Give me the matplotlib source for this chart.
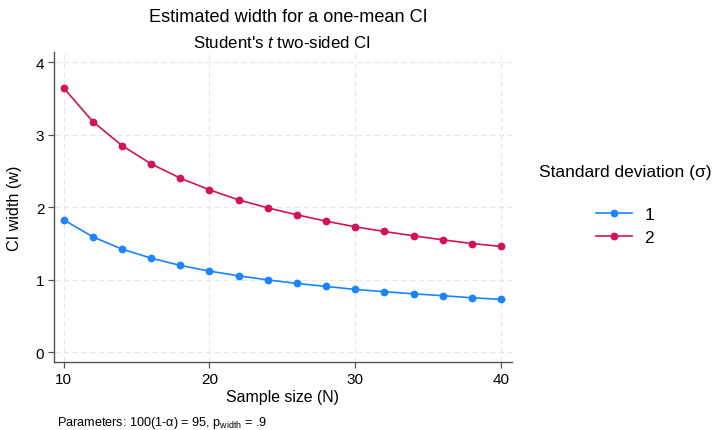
import matplotlib
matplotlib.use("Agg")
import matplotlib.pyplot as plt

plt.rcParams["font.family"] = ["Liberation Sans", "DejaVu Sans"]
plt.rcParams["mathtext.fontset"] = "custom"
plt.rcParams["mathtext.rm"] = "Liberation Sans"
plt.rcParams["mathtext.it"] = "Liberation Sans:italic"

# Sample sizes and estimated CI widths for each standard deviation
sample_size = [10, 12, 14, 16, 18, 20, 22, 24, 26, 28, 30, 32, 34, 36, 38, 40]
width_sd1 = [1.825, 1.590, 1.420, 1.296, 1.195, 1.117, 1.052, 0.995,
             0.947, 0.905, 0.864, 0.832, 0.804, 0.777, 0.749, 0.726]
width_sd2 = [3.645, 3.181, 2.850, 2.597, 2.400, 2.239, 2.100, 1.990,
             1.894, 1.806, 1.728, 1.664, 1.604, 1.549, 1.498, 1.457]
sd_labels = ["1", "2"]
x_ticks = [10, 20, 30, 40]
y_ticks = [0, 1, 2, 3, 4]

colors = ["#1a85ff", "#d41159"]

W, H = 714, 431
fig = plt.figure(figsize=(W / 100, H / 100), dpi=100)
ax = fig.add_axes([54 / W, 1 - 363 / H, (512 - 54) / W, (363 - 53) / H])

handles = []
for ys, c, lab in zip([width_sd1, width_sd2], colors, sd_labels):
    h, = ax.plot(sample_size, ys, color=c, lw=1.2, marker="o", ms=4.6,
                 mec=c, mfc=c, label=lab, zorder=3)
    handles.append(h)

ax.set_xlim(9.335, 40.75)
ax.set_ylim(-0.138, 4.142)
ax.set_xticks(x_ticks)
ax.set_yticks(y_ticks)
ax.grid(True, color="#e6e6e6", ls=(0, (5, 3)), lw=0.8, zorder=0)
for s in ["top", "right"]:
    ax.spines[s].set_visible(False)
for s in ["left", "bottom"]:
    ax.spines[s].set_color("#555555")
    ax.spines[s].set_linewidth(1.0)
ax.tick_params(axis="both", colors="#555555", labelcolor="black",
               labelsize=11, length=4, width=0.9, pad=3)

ax.set_xlabel("Sample size (N)", fontsize=11.4, va="center")
ax.xaxis.set_label_coords(0.5, (363 - 398) / 310)
ax.set_ylabel("CI width (w)", fontsize=11.6, va="center")
ax.yaxis.set_label_coords((15 - 54) / 458, 0.5)

fig.text(288 / W, 1 - 17 / H, "Estimated width for a one-mean CI",
         ha="center", va="center", fontsize=13.1)
fig.text(282 / W, 1 - 43 / H, "Student's $t$ two-sided CI",
         ha="center", va="center", fontsize=12.2)

fig.text(625 / W, 1 - 173 / H, "Standard deviation (\u03c3)",
         ha="center", va="center", fontsize=12.5)
fig.legend(handles=handles, labels=sd_labels, loc="upper left",
           bbox_to_anchor=(596 / W, 1 - 208 / H), frameon=False,
           fontsize=12.5, handlelength=2.1, handletextpad=0.7,
           labelspacing=0.42, borderaxespad=0, borderpad=0)

fig.text(57 / W, 1 - 423 / H,
         "Parameters: 100(1-\u03b1) = 95, p$_{\\mathrm{width}}$ = .9",
         ha="left", va="center", fontsize=9.1)

fig.savefig("out.png", dpi=100)
